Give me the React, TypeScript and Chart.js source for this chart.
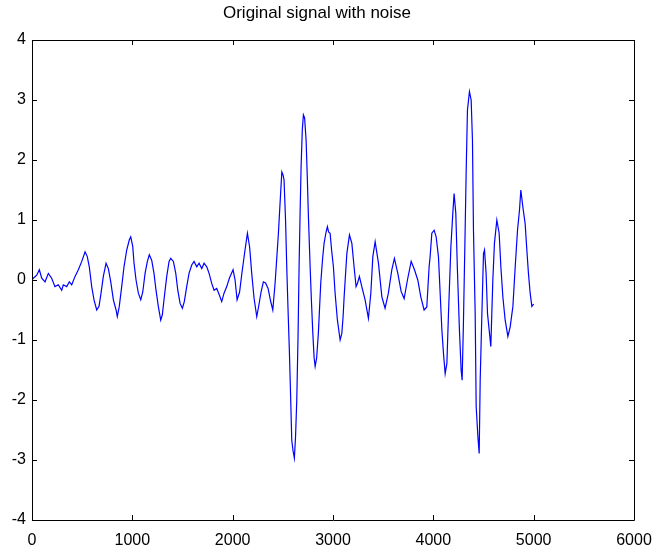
import React, { useEffect, useRef } from "react";
import { Chart, registerables } from "chart.js";

Chart.register(...registerables);

const titleText = "Original signal with noise";

const xTicks = [0, 1000, 2000, 3000, 4000, 5000, 6000];
const yTicks = [-4, -3, -2, -1, 0, 1, 2, 3, 4];

const sampleIndex = [
  0, 13, 47, 73, 97, 130, 163, 196, 229, 262, 296, 312, 346, 372, 396, 429, 462, 496, 529, 551,
  571, 595, 618, 645, 668, 688, 711, 738, 761, 785, 811, 838, 850, 870, 894, 917, 944, 970, 984,
  1004, 1017, 1037, 1060, 1084, 1104, 1127, 1150, 1169, 1193, 1216, 1236, 1259, 1283, 1299, 1319,
  1343, 1366, 1383, 1409, 1433, 1453, 1476, 1499, 1518, 1542, 1565, 1592, 1615, 1642, 1665, 1692,
  1715, 1742, 1765, 1792, 1815, 1841, 1867, 1891, 1914, 1941, 1967,
  2004, 2024, 2044, 2069, 2091, 2119, 2147, 2169, 2190, 2213, 2240, 2258, 2283, 2306, 2328, 2353,
  2378, 2400, 2423, 2456, 2473, 2490, 2502, 2512, 2527, 2539, 2552, 2565, 2577, 2589, 2602, 2615,
  2627, 2639, 2652, 2662, 2672, 2682, 2694, 2705, 2717, 2732, 2744, 2755, 2772, 2785, 2799, 2812,
  2822, 2837, 2854, 2878, 2896, 2911, 2931, 2944, 2956,
  2971, 2986, 3004, 3021, 3044, 3071, 3088, 3101, 3111, 3138, 3164, 3188, 3210, 3230, 3245, 3263,
  3287, 3320, 3353, 3377, 3397, 3420, 3453, 3487, 3519, 3552, 3586, 3612, 3646, 3679, 3709, 3742,
  3779, 3812, 3845, 3875, 3908, 3935, 3958,
  3968, 3985, 4008, 4028, 4051, 4068, 4085, 4101, 4118, 4135, 4151, 4175, 4194, 4207, 4224, 4240,
  4260, 4277, 4287, 4300, 4317, 4327, 4340, 4360, 4377, 4390, 4400, 4417, 4427, 4444, 4457, 4467,
  4484, 4500, 4510, 4526, 4540, 4560, 4573, 4593, 4609, 4633, 4656, 4673, 4693, 4716, 4743, 4766,
  4793, 4816, 4839, 4859, 4872, 4892, 4915, 4932, 4948, 4965, 4982, 5000,
];

const signal = [
  0.0, 0.03, 0.08, 0.17, 0.03, -0.03, 0.11, 0.03, -0.11, -0.08, -0.17, -0.08, -0.11, -0.03, -0.08, 0.06, 0.17, 0.31, 0.47, 0.39,
  0.22, -0.11, -0.33, -0.5, -0.44, -0.22, 0.06, 0.28, 0.19, -0.03, -0.33, -0.5, -0.61, -0.44, -0.11, 0.22, 0.5, 0.67, 0.72,
  0.56, 0.28, 0.0, -0.22, -0.33, -0.2, 0.11, 0.31, 0.42, 0.33, 0.11, -0.17, -0.44, -0.67, -0.58, -0.28,
  0.06, 0.31, 0.36, 0.31, 0.11, -0.17, -0.39, -0.47, -0.36, -0.11, 0.11, 0.25, 0.31, 0.22, 0.28, 0.19,
  0.28, 0.22, 0.11, -0.06, -0.17, -0.14, -0.25, -0.36, -0.22, -0.11, 0.03,
  0.17, 0.0, -0.33, -0.2, 0.1, 0.45, 0.78, 0.55, 0.11, -0.3, -0.61, -0.45, -0.2, -0.03, -0.05, -0.14,
  -0.35, -0.5, -0.05, 0.78, 1.3, 1.8, 1.75, 1.67, 1.0, 0.22, -0.5, -1.17, -1.9, -2.67, -2.85, -2.97,
  -2.6, -2.0, -0.9, 0.22, 1.1, 1.89, 2.5, 2.75, 2.7, 2.33, 1.7, 1.06, 0.22, -0.35, -0.89, -1.3,
  -1.44, -1.3, -0.89, -0.05, 0.35, 0.61, 0.8, 0.89, 0.8,
  0.78, 0.5, 0.22, -0.22, -0.67, -1.0, -0.89, -0.6, -0.28, 0.44, 0.75, 0.61, 0.22, -0.11, -0.05, 0.06,
  -0.11, -0.33, -0.64, -0.22, 0.39, 0.64, 0.28, -0.28, -0.47, -0.22, 0.17, 0.36, 0.11, -0.19, -0.31, 0.0,
  0.31, 0.17, 0.0, -0.28, -0.5, -0.45, 0.22,
  0.39, 0.78, 0.83, 0.72, 0.39, -0.22, -0.83, -1.22, -1.56, -1.39, -0.56, 0.56, 1.11, 1.44, 1.11, 0.17,
  -0.83, -1.5, -1.67, -0.72, 0.83, 1.78, 2.83, 3.14, 3.0, 2.33, 0.83, -0.56, -2.11, -2.61, -2.89, -1.67,
  -0.56, 0.44, 0.5, 0.11, -0.56, -0.89, -1.11, 0.0, 0.61, 1.0, 0.78, 0.22, -0.28, -0.67, -0.94, -0.78,
  -0.44, 0.22, 0.83, 1.17, 1.5, 1.22, 0.94, 0.5, 0.11, -0.22, -0.44, -0.4,
];

const FONT = "'Liberation Sans', Arial, Helvetica, sans-serif";

const boxPlugin = {
  id: "matlabBox",
  afterDraw(chart: any) {
    const { ctx, chartArea, scales } = chart;
    const { left, right, top, bottom } = chartArea;
    const x = scales.x;
    const y = scales.y;
    const len = 5;
    ctx.save();
    ctx.strokeStyle = "#000000";
    ctx.lineWidth = 1;
    ctx.beginPath();
    ctx.rect(Math.round(left) + 0.5, Math.round(top) + 0.5, Math.round(right - left), Math.round(bottom - top));
    ctx.stroke();
    ctx.beginPath();
    xTicks.forEach((v) => {
      const px = Math.round(x.getPixelForValue(v)) + 0.5;
      ctx.moveTo(px, bottom);
      ctx.lineTo(px, bottom - len);
      ctx.moveTo(px, top);
      ctx.lineTo(px, top + len);
    });
    yTicks.forEach((v) => {
      const py = Math.round(y.getPixelForValue(v)) + 0.5;
      ctx.moveTo(left, py);
      ctx.lineTo(left + len, py);
      ctx.moveTo(right, py);
      ctx.lineTo(right - len, py);
    });
    ctx.stroke();
    ctx.restore();
  },
};

export default function App() {
  const canvasRef = useRef<HTMLCanvasElement | null>(null);

  useEffect(() => {
    const canvas = canvasRef.current;
    if (!canvas) return;
    const points = sampleIndex.map((t, i) => ({ x: t, y: signal[i] }));
    const chart = new Chart(canvas, {
      type: "line",
      data: {
        datasets: [
          {
            data: points,
            borderColor: "#0000ff",
            borderWidth: 1.2,
            pointRadius: 0,
            tension: 0,
            fill: false,
          },
        ],
      },
      options: {
        responsive: false,
        animation: false,
        layout: { padding: { left: 0, right: 34, top: 0, bottom: 0 } },
        plugins: {
          legend: { display: false },
          tooltip: { enabled: false },
          title: {
            display: true,
            text: titleText,
            color: "#000000",
            font: { family: FONT, size: 17, weight: "normal" },
            padding: { top: 3, bottom: 16.6 },
          },
        },
        scales: {
          x: {
            type: "linear",
            min: 0,
            max: 6000,
            grid: { display: false, drawTicks: false },
            border: { display: false },
            afterFit: (s: any) => {
              s.height = 25;
            },
            afterBuildTicks: (s: any) => {
              s.ticks = xTicks.map((v) => ({ value: v }));
            },
            ticks: {
              color: "#000000",
              font: { family: FONT, size: 16 },
              padding: 11,
              maxRotation: 0,
              autoSkip: false,
              callback: (v: any) => String(v),
            },
          },
          y: {
            type: "linear",
            min: -4,
            max: 4,
            grid: { display: false, drawTicks: false },
            border: { display: false },
            afterFit: (s: any) => {
              s.width = 32;
            },
            afterBuildTicks: (s: any) => {
              s.ticks = yTicks.map((v) => ({ value: v }));
            },
            ticks: {
              color: "#000000",
              font: { family: FONT, size: 16 },
              padding: 6,
              autoSkip: false,
              callback: (v: any) => String(v),
            },
          },
        },
      },
      plugins: [boxPlugin],
    });
    return () => chart.destroy();
  }, []);

  return (
    <div style={{ position: "absolute", left: 0, top: 0, width: 668, height: 545, background: "#ffffff" }}>
      <canvas ref={canvasRef} width={668} height={545} style={{ display: "block" }} />
    </div>
  );
}
